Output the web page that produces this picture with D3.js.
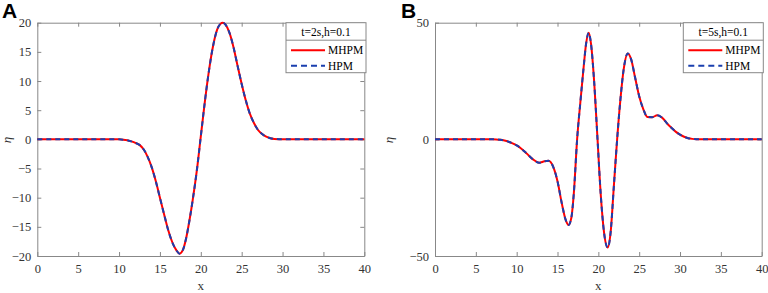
<!DOCTYPE html>
<html>
<head>
<meta charset="utf-8">
<script src="https://cdn.jsdelivr.net/npm/d3@7"></script>
<style>
    body { margin: 0; background: #fff; }
    svg { display: block; }
</style>
</head>
<body>
<script>
// values: x positions and eta for each panel
var xTicks = [0, 5, 10, 15, 20, 25, 30, 35, 40];
var yTicksA = [-20, -15, -10, -5, 0, 5, 10, 15, 20];
var yTicksB = [-50, 0, 50];

var xA = [0, 10, 10.5, 11, 11.5, 12, 12.5, 13, 13.5, 14, 14.5, 15, 15.5,
    16, 16.5, 17, 17.4, 17.8, 18.2, 18.6, 19, 19.5, 20, 20.5, 21, 21.5, 22,
    22.4, 22.7, 23, 23.5, 24, 24.5, 25, 25.5, 26, 26.5, 27, 27.5, 28, 28.5,
    29, 30, 40];
var mhpmA = [0, 0, -0.05, -0.15, -0.35, -0.6, -0.95, -1.7, -3.0, -4.8,
    -7.2, -10.0, -12.8, -15.5, -17.6, -19.0, -19.6, -19.0, -17.0, -14.0,
    -10.5, -5.5, 0.5, 6.5, 11.8, 16.0, 18.8, 19.8, 20.0, 19.7, 18.3, 15.8,
    12.6, 9.5, 6.7, 4.4, 2.8, 1.6, 0.9, 0.45, 0.2, 0.08, 0, 0];
var hpmA = mhpmA.slice(); // the two methods overlap in the picture

var xB = [0, 7, 7.5, 8, 8.5, 9, 9.5, 10, 10.5, 11, 11.5, 12, 12.75, 13.4,
    13.9, 14.5, 15, 15.5, 16, 16.35, 16.7, 17, 17.4, 17.8, 18.2, 18.5, 18.82,
    19.1, 19.5, 19.9, 20.3, 20.7, 21.15, 21.5, 21.9, 22.3, 22.7, 23.1, 23.6,
    24, 24.5, 25, 25.5, 26, 26.6, 27.2, 27.8, 28.5, 29, 29.5, 30, 30.5, 31,
    31.5, 32, 33, 40];
var mhpmB = [0, 0, -0.05, -0.2, -0.5, -1.0, -1.7, -2.6, -3.8, -5.3, -7.0,
    -8.6, -10.0, -9.4, -9.2, -12.0, -18.0, -27.0, -34.5, -36.7, -33.5, -23.0,
    0, 16.0, 31.0, 41.0, 45.7, 41.0, 24.0, 0, -24.0, -40.0, -46.4, -40.0,
    -20.0, 0, 17.0, 30.0, 36.8, 34.5, 26.5, 18.5, 13.0, 9.6, 9.5, 10.3, 9.3,
    6.5, 4.8, 3.2, 2.0, 1.1, 0.5, 0.2, 0.05, 0, 0];
var hpmB = mhpmB.slice();

var seriesNames = ["MHPM", "HPM"];
var seriesColors = ["#ff0000", "#1a3fae"];

var W = 768, H = 293;
var axisColor = "#888";
var font = "'Liberation Serif', 'Times New Roman', serif";

var svg = d3.select("body").append("svg")
    .attr("width", W)
    .attr("height", H);

var panels = [
    {label: "A", left: 37.3, right: 364.3, x: xA, a: mhpmA, b: hpmA,
        yDomain: [-20, 20], yTicks: yTicksA, title: "t=2s,h=0.1",
        legendX: 286, legendW: 80, etaX: 11, letterX: 2},
    {label: "B", left: 435, right: 761.7, x: xB, a: mhpmB, b: hpmB,
        yDomain: [-50, 50], yTicks: yTicksB, title: "t=5s,h=0.1",
        legendX: 683.3, legendW: 80, etaX: 393, letterX: 401}
];
var plotTop = 22.7, plotBottom = 256;

panels.forEach(function(p) {
    var xScale = d3.scaleLinear().domain([0, 40]).range([p.left, p.right]);
    var yScale = d3.scaleLinear().domain(p.yDomain)
        .range([plotBottom, plotTop]);

    // box axes with ticks pointing inwards (matlab look)
    function styleAxis(g) {
        g.selectAll("path, line").attr("stroke", axisColor);
        g.selectAll("text")
            .attr("fill", "#333")
            .style("font-family", font)
            .style("font-size", "12.5px");
    }
    svg.append("g")
        .attr("transform", "translate(0," + plotBottom + ")")
        .call(d3.axisBottom(xScale).tickValues(xTicks).tickSize(-4)
            .tickSizeOuter(0).tickPadding(8))
        .call(styleAxis);
    svg.append("g")
        .attr("transform", "translate(0," + plotTop + ")")
        .call(d3.axisTop(xScale).tickValues(xTicks).tickSize(-4)
            .tickSizeOuter(0).tickFormat(""))
        .call(styleAxis);
    svg.append("g")
        .attr("transform", "translate(" + p.left + ",0)")
        .call(d3.axisLeft(yScale).tickValues(p.yTicks).tickSize(-4)
            .tickSizeOuter(0).tickPadding(6))
        .call(styleAxis);
    svg.append("g")
        .attr("transform", "translate(" + p.right + ",0)")
        .call(d3.axisRight(yScale).tickValues(p.yTicks).tickSize(-4)
            .tickSizeOuter(0).tickFormat(""))
        .call(styleAxis);

    var line = d3.line()
        .x(function(d) { return xScale(d[0]); })
        .y(function(d) { return yScale(d[1]); })
        .curve(d3.curveMonotoneX);

    var ptsA = p.x.map(function(v, i) { return [v, p.a[i]]; });
    var ptsB = p.x.map(function(v, i) { return [v, p.b[i]]; });

    svg.append("path").datum(ptsA)
        .attr("d", line)
        .attr("fill", "none")
        .attr("stroke", seriesColors[0])
        .attr("stroke-width", 2);
    svg.append("path").datum(ptsB)
        .attr("d", line)
        .attr("fill", "none")
        .attr("stroke", seriesColors[1])
        .attr("stroke-width", 2)
        .attr("stroke-dasharray", "5,4");

    // legend
    var lg = svg.append("g");
    lg.append("rect")
        .attr("x", p.legendX).attr("y", plotTop)
        .attr("width", p.legendW).attr("height", 50)
        .attr("fill", "#fff").attr("stroke", axisColor);
    lg.append("line")
        .attr("x1", p.legendX).attr("x2", p.legendX + p.legendW)
        .attr("y1", plotTop + 17.5).attr("y2", plotTop + 17.5)
        .attr("stroke", axisColor);
    lg.append("text")
        .attr("x", p.legendX + p.legendW / 2).attr("y", plotTop + 13)
        .attr("text-anchor", "middle")
        .style("font-family", font).style("font-size", "11.5px")
        .text(p.title);
    seriesNames.forEach(function(name, i) {
        var yy = plotTop + 27.5 + i * 15.5;
        lg.append("line")
            .attr("x1", p.legendX + 5).attr("x2", p.legendX + 39)
            .attr("y1", yy).attr("y2", yy)
            .attr("stroke", seriesColors[i])
            .attr("stroke-width", 2)
            .attr("stroke-dasharray", i === 1 ? "6,4" : null);
        lg.append("text")
            .attr("x", p.legendX + 42).attr("y", yy + 4)
            .style("font-family", font).style("font-size", "11.5px")
            .text(name);
    });

    // axis titles
    svg.append("text")
        .attr("x", (p.left + p.right) / 2).attr("y", 290)
        .attr("text-anchor", "middle")
        .attr("fill", "#333")
        .style("font-family", font).style("font-size", "13px")
        .text("x");
    svg.append("text")
        .attr("transform", "translate(" + p.etaX + ",140) rotate(-90)")
        .attr("text-anchor", "middle")
        .attr("fill", "#333")
        .style("font-family", font).style("font-size", "13px")
        .style("font-style", "italic")
        .text("η");

    // panel letter
    svg.append("text")
        .attr("x", p.letterX).attr("y", 18)
        .style("font-family", "'Liberation Sans', Arial, sans-serif")
        .style("font-size", "21px").style("font-weight", "bold")
        .text(p.label);
});
</script>
</body>
</html>
